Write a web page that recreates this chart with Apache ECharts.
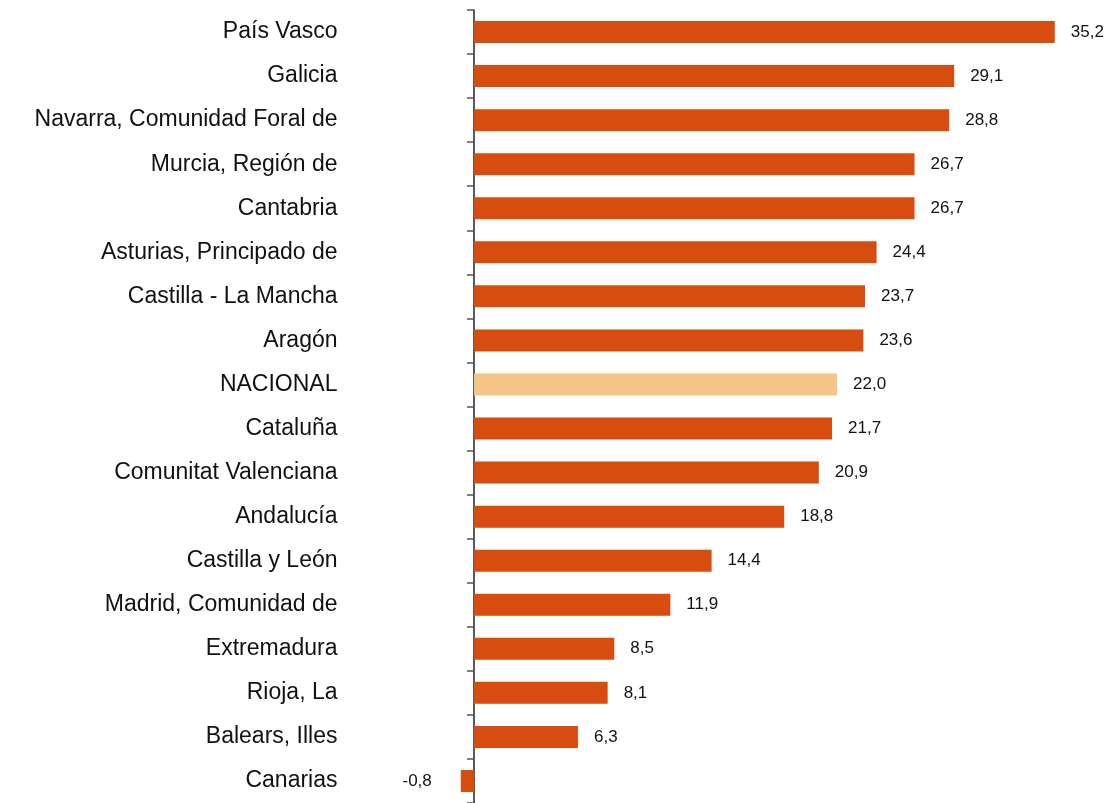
<!DOCTYPE html>
<html>
<head>
<meta charset="utf-8">
<script src="https://cdn.jsdelivr.net/npm/echarts@6/dist/echarts.min.js"></script>
<style>
  html, body { margin: 0; padding: 0; background: #fff; }
  #chart { width: 1120px; height: 803px; }
</style>
</head>
<body>
<div id="chart"></div>
<script>
  // comunidades, de arriba abajo
  var regiones = [
    'País Vasco', 'Galicia', 'Navarra, Comunidad Foral de', 'Murcia, Región de',
    'Cantabria', 'Asturias, Principado de', 'Castilla - La Mancha', 'Aragón',
    'NACIONAL', 'Cataluña', 'Comunitat Valenciana', 'Andalucía',
    'Castilla y León', 'Madrid, Comunidad de', 'Extremadura', 'Rioja, La',
    'Balears, Illes', 'Canarias'
  ];
  var valores = [35.2, 29.1, 28.8, 26.7, 26.7, 24.4, 23.7, 23.6, 22.0, 21.7,
    20.9, 18.8, 14.4, 11.9, 8.5, 8.1, 6.3, -0.8];

  var naranja = '#d64d0f';
  var claro = '#f5c585';

  var datos = valores.map(function (v, i) {
    var item = { value: v, itemStyle: { color: regiones[i] === 'NACIONAL' ? claro : naranja } };
    if (v < 0) {
      item.label = { position: 'left', distance: 29 };
    }
    return item;
  });

  var chart = echarts.init(document.getElementById('chart'));
  chart.setOption({
    animation: false,
    grid: { left: 457.5, right: 52, top: 10, bottom: -5, containLabel: false },
    xAxis: {
      type: 'value',
      min: -1,
      max: 36,
      show: false
    },
    yAxis: {
      type: 'category',
      inverse: true,
      data: regiones,
      axisLine: { onZero: true, lineStyle: { color: '#222', width: 1.5 } },
      axisTick: { show: true, length: 7, lineStyle: { color: '#555', width: 1.5 } },
      axisLabel: {
        margin: 120,
        fontSize: 23,
        color: '#111',
        fontFamily: 'Liberation Sans, Arial, sans-serif'
      },
      splitLine: { show: false }
    },
    series: [{
      type: 'bar',
      data: datos,
      barWidth: 22,
      label: {
        show: true,
        position: 'right',
        distance: 16,
        fontSize: 17,
        color: '#111',
        fontFamily: 'Liberation Sans, Arial, sans-serif',
        formatter: function (p) {
          return p.value.toFixed(1).replace('.', ',');
        }
      }
    }]
  });
</script>
</body>
</html>
